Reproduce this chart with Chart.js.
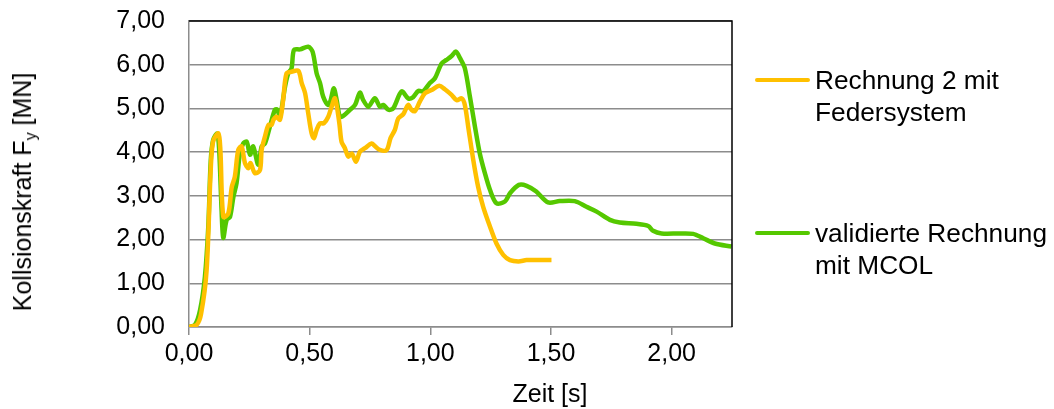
<!DOCTYPE html>
<html>
<head>
<meta charset="utf-8">
<script src="https://cdn.jsdelivr.net/npm/chart.js@4.4.0/dist/chart.umd.min.js"></script>
<style>
  body { margin: 0; background: #fff; font-family: "Liberation Sans", Arial, sans-serif; }
  #wrap { position: relative; width: 1054px; height: 409px; }
  #chart { position: absolute; left: 0; top: 0; }
  .ytitle { position: absolute; left: 24px; top: 192px; font-size: 25px; white-space: nowrap;
            transform: translate(-50%, -50%) rotate(-90deg); color: #000; }
  .ytitle sub { font-size: 16px; vertical-align: -5px; }
  .xtitle { position: absolute; left: 550px; top: 393px; font-size: 25px; transform: translate(-50%, -50%); color: #000; }
  .leg { position: absolute; left: 755px; font-size: 25px; line-height: 32px; color: #000; }
  .leg .swatch { position: absolute; left: 0; top: 14px; width: 55px; height: 4px; border-radius: 2px; }
  .leg .txt { margin-left: 60px; white-space: nowrap; transform: scaleX(1.05); transform-origin: left center; }
</style>
</head>
<body>
<div id="wrap">
  <canvas id="chart" width="1054" height="409"></canvas>
  <div class="ytitle">Kollsionskraft F<sub>y</sub> [MN]</div>
  <div class="xtitle">Zeit [s]</div>
  <div class="leg" id="leg0" style="top:64px"></div>
  <div class="leg" id="leg1" style="top:217px"></div>
</div>
<script>
// Rechnung 2 mit Federsystem
const timeOrange = [0, 0.032, 0.05, 0.073, 0.09, 0.10, 0.122, 0.13, 0.142, 0.163, 0.177, 0.19, 0.204, 0.218, 0.232, 0.246, 0.255, 0.273,
  0.294, 0.301, 0.315, 0.329, 0.342, 0.35, 0.363, 0.377, 0.39, 0.404, 0.425, 0.453, 0.467, 0.481, 0.494, 0.508, 0.518, 0.529,
  0.543, 0.559, 0.577, 0.591, 0.605, 0.623, 0.632, 0.646, 0.66, 0.674, 0.692, 0.708, 0.729, 0.757, 0.77, 0.791, 0.819, 0.835,
  0.853, 0.867, 0.888, 0.908, 0.922, 0.936, 0.957, 0.978, 1.005, 1.037, 1.06, 1.088, 1.109, 1.13, 1.143, 1.157, 1.178, 1.198,
  1.219, 1.247, 1.274, 1.302, 1.33, 1.365, 1.399, 1.454, 1.502];
const forceOrange = [0, 0.05, 0.3, 1.3, 3.6, 4.25, 4.43, 4.05, 2.52, 2.6, 3.2, 3.44, 4.05, 4.13, 3.75, 3.63, 3.75, 3.52,
  3.59, 4.05, 4.36, 4.62, 4.62, 4.74, 4.81, 4.74, 5.19, 5.8, 5.84, 5.86, 5.58, 5.35, 4.89, 4.43, 4.32, 4.51,
  4.66, 4.66, 4.81, 5.04, 5.23, 4.66, 4.24, 4.09, 3.9, 3.97, 3.78, 4.01, 4.09, 4.2, 4.14, 4.05, 4.05, 4.32,
  4.51, 4.77, 4.87, 5.08, 4.97, 4.94, 5.16, 5.35, 5.42, 5.52, 5.44, 5.31, 5.19, 5.23, 5.08, 4.58, 3.82, 3.21,
  2.75, 2.3, 1.91, 1.65, 1.53, 1.5, 1.53, 1.53, 1.53];

// validierte Rechnung mit MCOL
const timeGreen = [0, 0.025, 0.046, 0.066, 0.08, 0.09, 0.10, 0.117, 0.125, 0.135, 0.142, 0.156, 0.17, 0.184, 0.197, 0.211, 0.225,
  0.239, 0.253, 0.266, 0.287, 0.301, 0.315, 0.335, 0.356, 0.366, 0.377, 0.398, 0.411, 0.425, 0.435, 0.46, 0.494, 0.512, 0.529,
  0.543, 0.556, 0.577, 0.587, 0.6, 0.612, 0.625, 0.639, 0.667, 0.688, 0.708, 0.722, 0.743, 0.77, 0.791, 0.805, 0.826, 0.846,
  0.881, 0.908, 0.929, 0.95, 0.97, 0.998, 1.019, 1.047, 1.067, 1.088, 1.106, 1.123, 1.143, 1.164, 1.185, 1.205, 1.226, 1.247,
  1.274, 1.309, 1.33, 1.367, 1.399, 1.439, 1.488, 1.536, 1.598, 1.647, 1.689, 1.744, 1.785, 1.854, 1.903, 1.923, 1.958, 2.034,
  2.089, 2.131, 2.179, 2.248];
const forceGreen = [0, 0.05, 0.39, 1.15, 2.3, 3.8, 4.28, 4.42, 4.05, 2.68, 2.04, 2.45, 2.52, 2.98, 3.29, 3.97, 4.2,
  4.24, 3.94, 4.13, 3.71, 4.13, 4.2, 4.58, 4.97, 4.97, 4.81, 5.5, 5.8, 5.92, 6.34, 6.35, 6.41, 6.3, 5.8,
  5.58, 5.27, 5.08, 5.19, 5.46, 5.19, 4.81, 4.83, 4.97, 5.08, 5.36, 5.19, 5.04, 5.23, 5.04, 5.08, 4.97, 5.0,
  5.39, 5.23, 5.26, 5.4, 5.39, 5.58, 5.69, 6.03, 6.11, 6.2, 6.3, 6.15, 5.92, 5.27, 4.58, 3.97, 3.52, 3.14,
  2.83, 2.87, 3.06, 3.25, 3.23, 3.1, 2.85, 2.88, 2.88, 2.75, 2.64, 2.45, 2.39, 2.36, 2.31, 2.2, 2.14, 2.14,
  2.13, 2.03, 1.91, 1.84];

const seriesNames = [['Rechnung 2 mit', 'Federsystem'], ['validierte Rechnung', 'mit MCOL']];
const seriesColors = ['#FFC000', '#55C800'];

const yTicks = [0, 1, 2, 3, 4, 5, 6, 7];
const xTicks = [0, 0.5, 1, 1.5, 2];

function fmt(v) {
  return v.toFixed(2).replace('.', ',');
}

function toPoints(xs, ys) {
  return xs.map((x, i) => ({ x: x, y: ys[i] }));
}

// legend built in HTML so that the label can wrap onto two lines
seriesNames.forEach((lines, i) => {
  const el = document.getElementById('leg' + i);
  el.innerHTML = '<div class="swatch" style="background:' + seriesColors[i] + '"></div>' +
    lines.map(l => '<div class="txt">' + l + '</div>').join('');
});

// black frame on top and right of the plot area
const frame = {
  id: 'frame',
  afterDraw(chart) {
    const a = chart.chartArea, ctx = chart.ctx;
    ctx.save();
    ctx.strokeStyle = '#000';
    ctx.lineWidth = 1.5;
    ctx.beginPath();
    ctx.moveTo(a.left, a.top);
    ctx.lineTo(a.right, a.top);
    ctx.lineTo(a.right, a.bottom);
    ctx.stroke();
    ctx.restore();
  }
};

const tickFont = { family: '"Liberation Sans", Arial', size: 25 };

const ctx = document.getElementById('chart').getContext('2d');
new Chart(ctx, {
  type: 'line',
  data: {
    datasets: [{
      label: seriesNames[0].join(' '),
      data: toPoints(timeOrange, forceOrange),
      borderColor: seriesColors[0],
      borderWidth: 4.5,
      pointRadius: 0,
      tension: 0.3,
      fill: false
    }, {
      label: seriesNames[1].join(' '),
      data: toPoints(timeGreen, forceGreen),
      borderColor: seriesColors[1],
      borderWidth: 4.5,
      pointRadius: 0,
      tension: 0.3,
      fill: false
    }]
  },
  options: {
    responsive: false,
    animation: false,
    layout: { padding: { top: 21, right: 322, left: 0, bottom: 0 } },
    plugins: {
      legend: { display: false },
      tooltip: { enabled: false }
    },
    scales: {
      x: {
        type: 'linear',
        min: 0,
        max: 2.25,
        afterFit(scale) { scale.height = 82; },
        afterBuildTicks(scale) { scale.ticks = xTicks.map(v => ({ value: v })); },
        ticks: {
          includeBounds: false,
          padding: 4,
          color: '#000',
          font: tickFont,
          maxRotation: 0,
          callback: v => fmt(v)
        },
        grid: { drawOnChartArea: false, drawTicks: true, tickLength: 8, color: '#8c8c8c', lineWidth: 1.5 },
        border: { color: '#8c8c8c', width: 1.5 }
      },
      y: {
        min: 0,
        max: 7,
        afterFit(scale) { scale.width = 189; scale.paddingTop = 0; scale.paddingBottom = 0; },
        afterBuildTicks(scale) { scale.ticks = yTicks.map(v => ({ value: v })); },
        ticks: {
          padding: 24,
          color: '#000',
          font: tickFont,
          callback: v => fmt(v)
        },
        grid: { drawTicks: false, color: '#8c8c8c', lineWidth: 1.5 },
        border: { color: '#8c8c8c', width: 1.5 }
      }
    }
  },
  plugins: [frame]
});
</script>
</body>
</html>
